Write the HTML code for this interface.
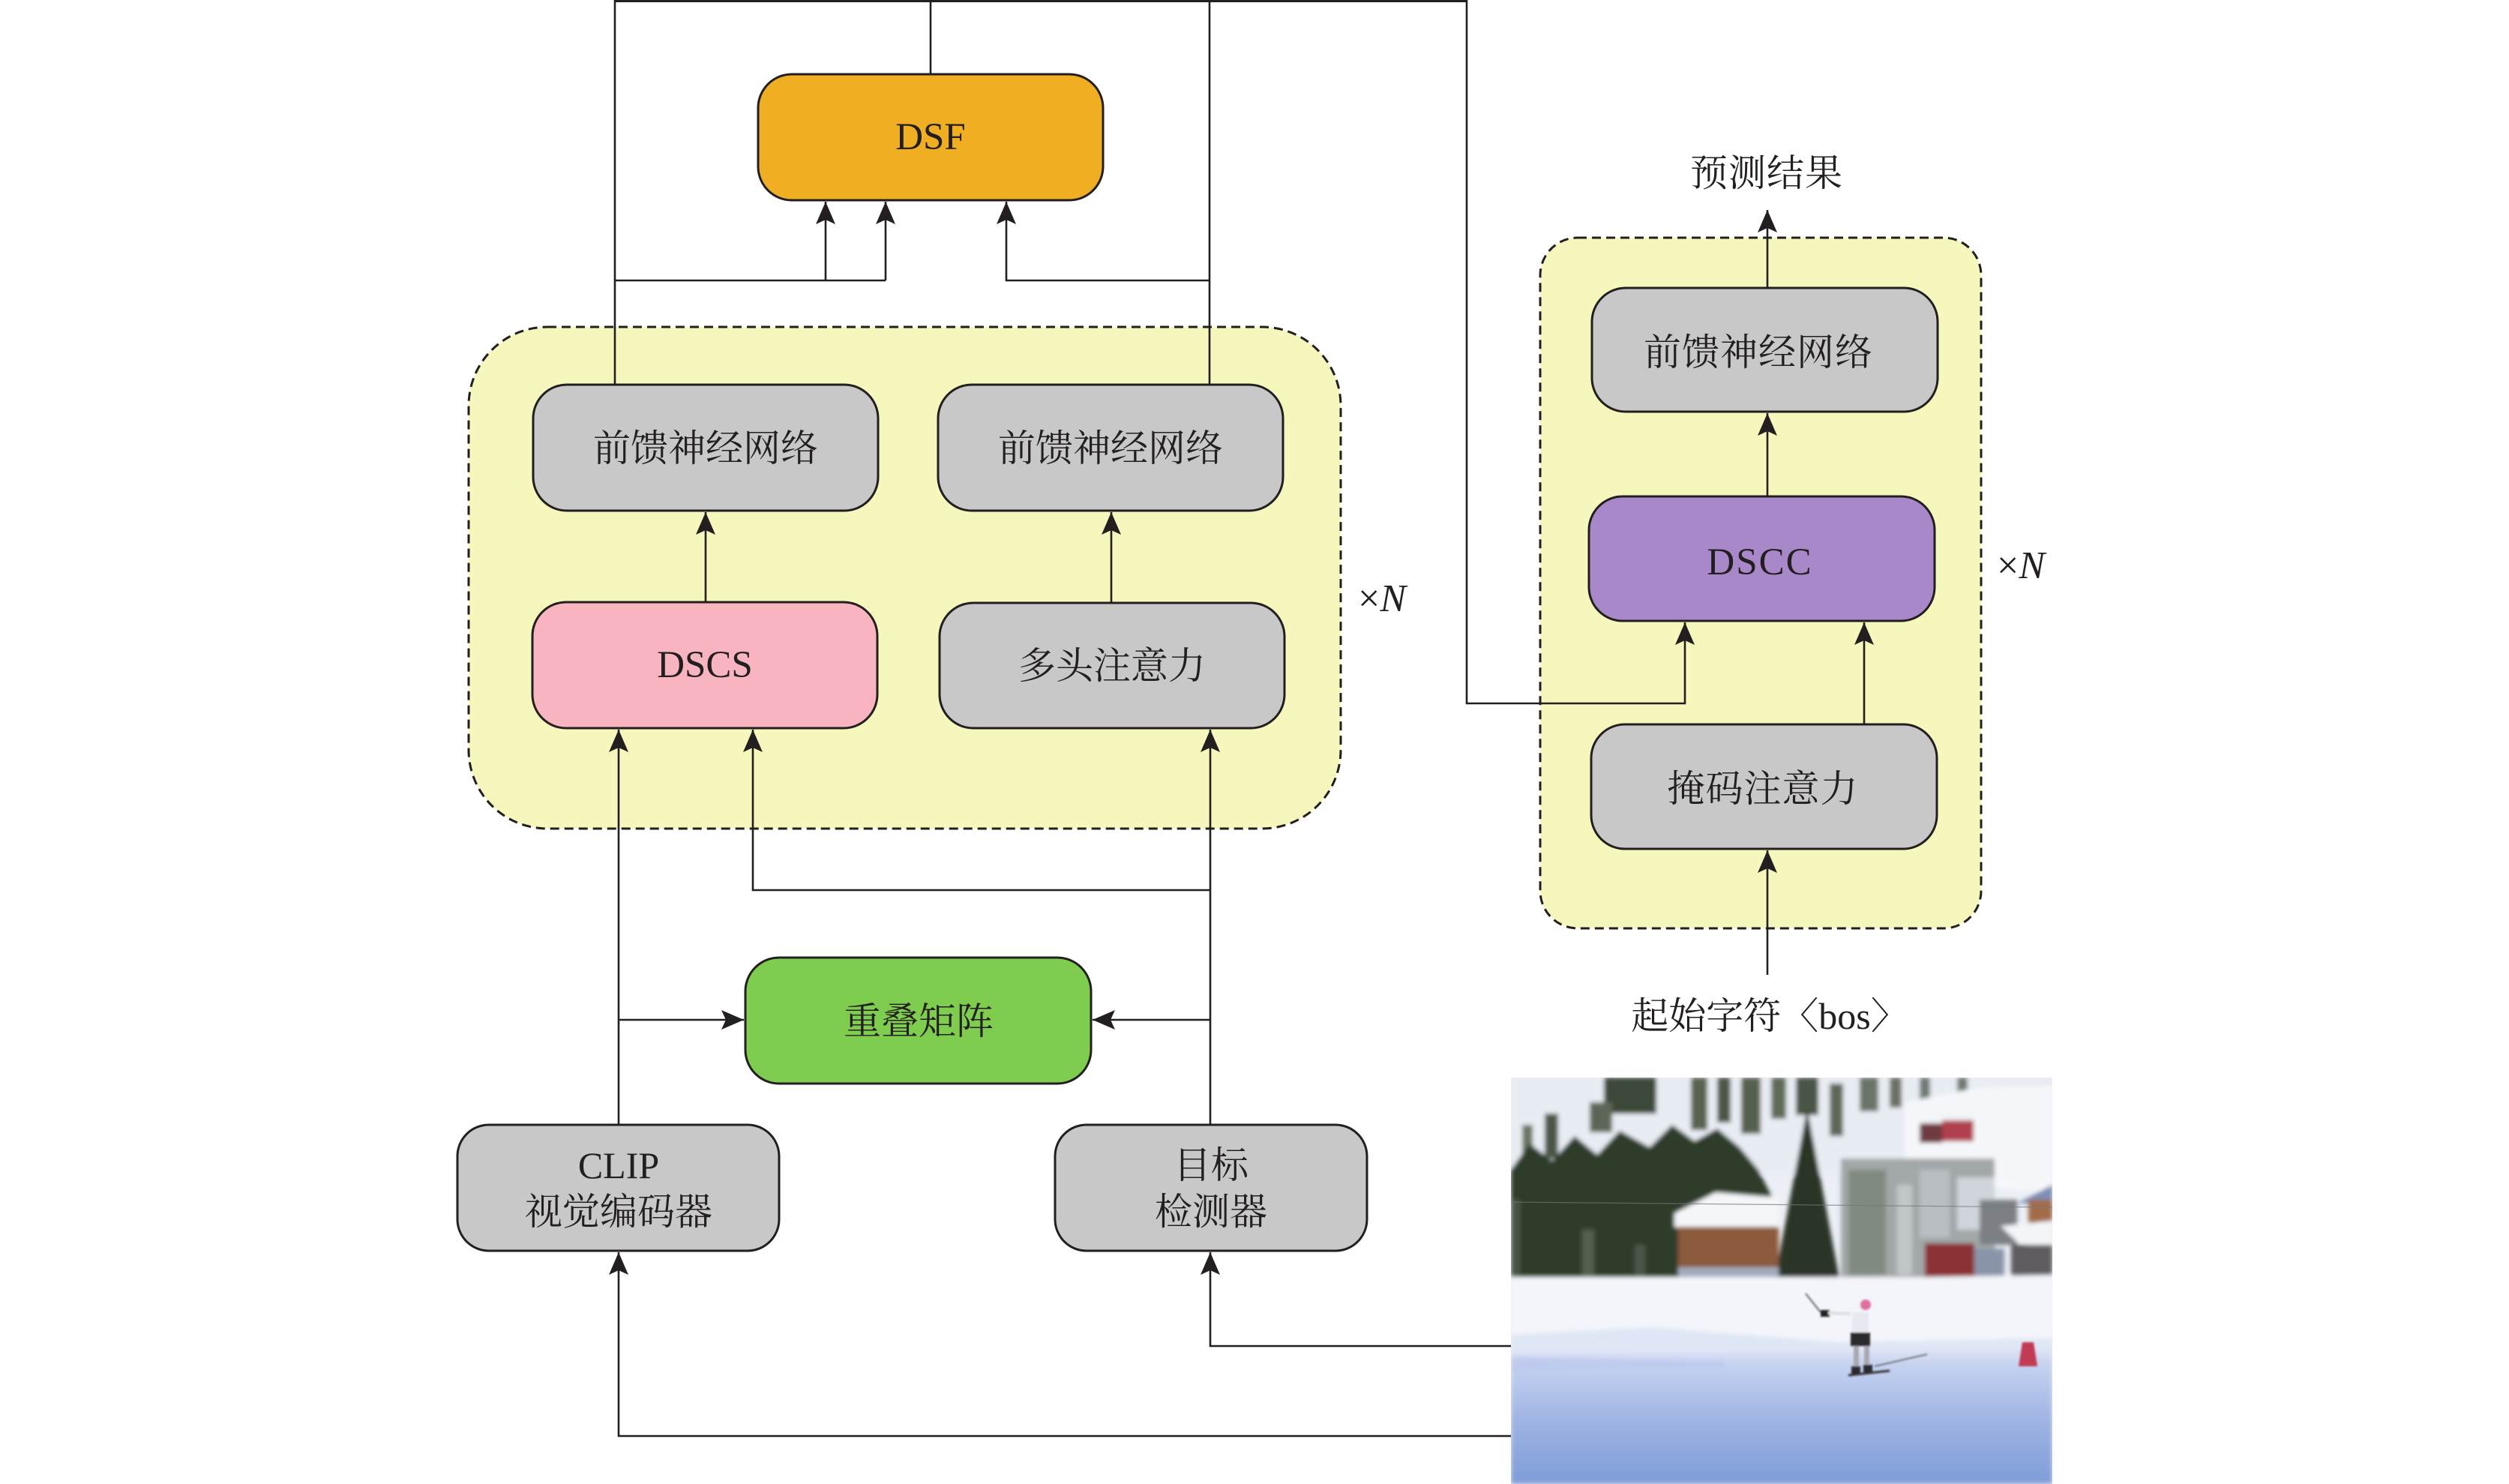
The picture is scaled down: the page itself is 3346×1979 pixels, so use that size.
<!DOCTYPE html>
<html>
<head>
<meta charset="utf-8">
<style>
html,body{margin:0;padding:0;background:#fff;}
body{width:3346px;height:1979px;overflow:hidden;}
svg{display:block;}
.cn{font-family:"Liberation Serif","Noto Serif CJK SC","Noto Sans CJK SC",serif;font-size:50px;fill:#231f20;}
.lt{font-family:"Liberation Serif",serif;font-size:51px;fill:#231f20;}
.ln{stroke:#231f20;stroke-width:2.6;fill:none;}
.bx{stroke:#231f20;stroke-width:3;}
</style>
</head>
<body>
<svg width="3346" height="1979" viewBox="0 0 3346 1979" xmlns="http://www.w3.org/2000/svg">
<defs>
<marker id="a" markerUnits="userSpaceOnUse" markerWidth="32" markerHeight="28" refX="30" refY="14" orient="auto" viewBox="0 0 32 28">
<path d="M30,14 L0,1 L6,14 L0,27 Z" fill="#231f20"/>
</marker>
<linearGradient id="snow" x1="0" y1="0" x2="0" y2="1">
<stop offset="0" stop-color="#f4f6fa"/>
<stop offset="0.3" stop-color="#eef1f9"/>
<stop offset="0.42" stop-color="#c6d2f0"/>
<stop offset="0.7" stop-color="#9db3e2"/>
<stop offset="1" stop-color="#7f9dd8"/>
</linearGradient>
<clipPath id="pc"><rect x="2015" y="1437" width="722" height="542"/></clipPath>
<filter id="bl" x="-5%" y="-5%" width="110%" height="110%"><feGaussianBlur stdDeviation="3"/></filter>
<filter id="bl2"><feGaussianBlur stdDeviation="1.2"/></filter>
</defs>

<!-- containers -->
<rect x="625" y="436" width="1163" height="669" rx="105" ry="105" fill="#f5f7bc" stroke="#231f20" stroke-width="3" stroke-dasharray="12 7"/>
<rect x="2054" y="317" width="588" height="921" rx="50" ry="50" fill="#f5f7bc" stroke="#231f20" stroke-width="3" stroke-dasharray="12 7"/>

<!-- connectors -->
<line class="ln" x1="820" y1="1.5" x2="1956" y2="1.5" style="stroke-width:3"/>
<line class="ln" x1="820" y1="0" x2="820" y2="513"/>
<line class="ln" x1="1241" y1="0" x2="1241" y2="99"/>
<line class="ln" x1="1613" y1="0" x2="1613" y2="513"/>
<polyline class="ln" points="1956,0 1956,938 2247,938 2247,830" marker-end="url(#a)"/>
<line class="ln" x1="820" y1="374" x2="1181" y2="374"/>
<line class="ln" x1="1101" y1="374" x2="1101" y2="269" marker-end="url(#a)"/>
<line class="ln" x1="1181" y1="374" x2="1181" y2="269" marker-end="url(#a)"/>
<polyline class="ln" points="1613,374 1342,374 1342,269" marker-end="url(#a)"/>
<line class="ln" x1="941" y1="803" x2="941" y2="683" marker-end="url(#a)"/>
<line class="ln" x1="1482" y1="804" x2="1482" y2="683" marker-end="url(#a)"/>
<line class="ln" x1="825" y1="1500" x2="825" y2="973" marker-end="url(#a)"/>
<polyline class="ln" points="1614,1187 1004,1187 1004,973" marker-end="url(#a)"/>
<line class="ln" x1="1614" y1="1500" x2="1614" y2="973" marker-end="url(#a)"/>
<line class="ln" x1="825" y1="1360" x2="992" y2="1360" marker-end="url(#a)"/>
<line class="ln" x1="1614" y1="1360" x2="1457" y2="1360" marker-end="url(#a)"/>
<polyline class="ln" points="2015,1915 825,1915 825,1670" marker-end="url(#a)"/>
<polyline class="ln" points="2015,1795 1614,1795 1614,1670" marker-end="url(#a)"/>
<line class="ln" x1="2357" y1="1300" x2="2357" y2="1134" marker-end="url(#a)"/>
<line class="ln" x1="2486" y1="966" x2="2486" y2="830" marker-end="url(#a)"/>
<line class="ln" x1="2357" y1="662" x2="2357" y2="551" marker-end="url(#a)"/>
<line class="ln" x1="2357" y1="384" x2="2357" y2="280" marker-end="url(#a)"/>

<!-- boxes -->
<rect class="bx" x="1011" y="99" width="460" height="168" rx="45" fill="#f0ae22"/>
<text class="lt" x="1241" y="199" text-anchor="middle">DSF</text>

<rect class="bx" x="711" y="513" width="460" height="168" rx="45" fill="#c8c8c8"/>
<text class="cn" x="941" y="615" text-anchor="middle">前馈神经网络</text>
<rect class="bx" x="1251" y="513" width="460" height="168" rx="45" fill="#c8c8c8"/>
<text class="cn" x="1481" y="615" text-anchor="middle">前馈神经网络</text>

<rect class="bx" x="710" y="803" width="460" height="168" rx="45" fill="#f8b5bf"/>
<text class="lt" x="940" y="903" text-anchor="middle">DSCS</text>
<rect class="bx" x="1253" y="804" width="460" height="167" rx="45" fill="#c8c8c8"/>
<text class="cn" x="1483" y="905" text-anchor="middle">多头注意力</text>

<text x="1811" y="815" style="font-family:'Liberation Serif',serif;font-size:52px;fill:#231f20">×<tspan font-style="italic">N</tspan></text>

<rect class="bx" x="994" y="1277" width="461" height="168" rx="45" fill="#7fcd4f"/>
<text class="cn" x="1225" y="1379" text-anchor="middle">重叠矩阵</text>

<rect class="bx" x="610" y="1500" width="429" height="168" rx="42" fill="#c8c8c8"/>
<text class="lt" x="825" y="1571" text-anchor="middle" style="font-size:50px">CLIP</text>
<text class="cn" x="825" y="1633" text-anchor="middle">视觉编码器</text>

<rect class="bx" x="1407" y="1500" width="416" height="168" rx="42" fill="#c8c8c8"/>
<text class="cn" x="1615" y="1571" text-anchor="middle">目标</text>
<text class="cn" x="1615" y="1633" text-anchor="middle">检测器</text>

<!-- right side -->
<text class="cn" x="2356" y="248" text-anchor="middle" letter-spacing="1">预测结果</text>
<rect class="bx" x="2123" y="384" width="461" height="165" rx="45" fill="#c8c8c8"/>
<text class="cn" x="2345" y="487" text-anchor="middle" letter-spacing="1">前馈神经网络</text>
<rect class="bx" x="2119" y="662" width="461" height="166" rx="45" fill="#a888c8"/>
<text class="lt" x="2347" y="766" text-anchor="middle" letter-spacing="2">DSCC</text>
<rect class="bx" x="2122" y="966" width="461" height="166" rx="45" fill="#c8c8c8"/>
<text class="cn" x="2351" y="1069" text-anchor="middle" letter-spacing="1">掩码注意力</text>
<text x="2663" y="771" style="font-family:'Liberation Serif',serif;font-size:52px;fill:#231f20">×<tspan font-style="italic">N</tspan></text>
<text class="cn" x="2360" y="1372" text-anchor="middle">起始字符〈bos〉</text>

<!-- photo -->
<g clip-path="url(#pc)">
<rect x="2015" y="1437" width="722" height="542" fill="#eceff5"/>
<g filter="url(#bl)">
<!-- upper snowy hillside with scattered trees -->
<rect x="2015" y="1437" width="722" height="130" fill="#e8ecf3"/>
<rect x="2139" y="1437" width="70" height="48" fill="#3e4838"/>
<rect x="2120" y="1470" width="30" height="40" fill="#5d6656"/>
<rect x="2060" y="1485" width="18" height="60" fill="#4b5646"/>
<rect x="2030" y="1500" width="14" height="40" fill="#6a7464"/>
<rect x="2255" y="1437" width="22" height="70" fill="#59624f"/>
<rect x="2290" y="1437" width="18" height="60" fill="#4d5646"/>
<rect x="2322" y="1437" width="26" height="75" fill="#56604f"/>
<rect x="2362" y="1437" width="20" height="55" fill="#606a5a"/>
<rect x="2395" y="1437" width="30" height="50" fill="#4a5444"/>
<rect x="2440" y="1445" width="18" height="70" fill="#5f6858"/>
<rect x="2480" y="1437" width="25" height="45" fill="#6b7367"/>
<rect x="2520" y="1437" width="16" height="40" fill="#6a7064"/>
<rect x="2560" y="1437" width="14" height="30" fill="#707a72"/>
<rect x="2610" y="1437" width="14" height="22" fill="#707a72"/>
<!-- white hill right -->
<polygon points="2540,1470 2640,1450 2737,1448 2737,1590 2540,1575" fill="#f5f7fa"/>
<!-- red house upper right -->
<polygon points="2560,1498 2590,1480 2632,1484 2632,1500" fill="#f2f4f7"/>
<rect x="2560" y="1498" width="30" height="26" fill="#6e3a40"/>
<rect x="2590" y="1494" width="42" height="28" fill="#b0404e"/>
<!-- dark forest band left -->
<polygon points="2015,1560 2040,1525 2070,1548 2100,1515 2130,1540 2160,1508 2200,1530 2230,1500 2260,1522 2290,1505 2320,1530 2345,1560 2365,1600 2370,1731 2015,1731" fill="#2f3c2c"/>
<rect x="2110" y="1640" width="16" height="91" fill="#55604f"/>
<rect x="2180" y="1660" width="14" height="71" fill="#4c5746"/>
<rect x="2015" y="1600" width="12" height="131" fill="#4a5444"/>
<!-- tall tree -->
<polygon points="2410,1478 2458,1731 2362,1731" fill="#2a3628"/>
<!-- middle-right bare trees -->
<rect x="2455" y="1545" width="205" height="160" fill="#a2a7a8"/>
<rect x="2465" y="1560" width="50" height="140" fill="#818a80"/>
<rect x="2530" y="1580" width="20" height="120" fill="#c2c6c8"/>
<rect x="2560" y="1560" width="40" height="90" fill="#b9bec2"/>
<rect x="2610" y="1570" width="50" height="70" fill="#d0d5dc"/>
<rect x="2640" y="1600" width="50" height="60" fill="#7b7f84"/>
<!-- brown house -->
<polygon points="2233,1618 2288,1590 2372,1597 2372,1645 2300,1652 2233,1636" fill="#f5f6f8"/>
<rect x="2238" y="1636" width="134" height="55" fill="#8c5a3c"/>
<rect x="2238" y="1690" width="134" height="38" fill="#a3acbb"/>
<!-- right houses -->
<polygon points="2690,1605 2737,1580 2737,1605" fill="#7a8db4"/>
<rect x="2705" y="1600" width="32" height="32" fill="#a36c48"/>
<polygon points="2668,1635 2737,1628 2737,1668 2690,1656" fill="#f3f5f8"/>
<rect x="2682" y="1660" width="55" height="45" fill="#5e5b60"/>
<rect x="2567" y="1658" width="66" height="45" fill="#8b3236"/>
<rect x="2633" y="1665" width="40" height="40" fill="#8a94a8"/>
<!-- slope -->
<rect x="2015" y="1703" width="722" height="276" fill="url(#snow)"/>
<polygon points="2015,1731 2300,1728 2440,1705 2737,1700 2737,1790 2015,1790" fill="#f3f5fa"/>
<polygon points="2015,1780 2200,1770 2450,1790 2737,1785 2737,1800 2015,1805" fill="#dfe6f5"/>
<polygon points="2015,1810 2300,1815 2300,1822 2015,1828" fill="#b9c8ee" opacity="0.7"/>
</g>
<!-- wire -->
<line x1="2015" y1="1603" x2="2737" y2="1610" stroke="#70787c" stroke-width="1.2" opacity="0.7"/>
<!-- skier -->
<g filter="url(#bl2)">
<line x1="2408" y1="1725" x2="2428" y2="1750" stroke="#666" stroke-width="2"/>
<rect x="2428" y="1747" width="12" height="9" fill="#222"/>
<line x1="2438" y1="1751" x2="2468" y2="1752" stroke="#ddd" stroke-width="4"/>
<circle cx="2488" cy="1740" r="7" fill="#e070a0"/>
<rect x="2470" y="1750" width="22" height="27" fill="#e6eaf0"/>
<rect x="2468" y="1777" width="26" height="18" fill="#2a2a2a"/>
<rect x="2472" y="1795" width="7" height="28" fill="#a8a8b0"/>
<rect x="2486" y="1795" width="7" height="26" fill="#a8a8b0"/>
<rect x="2469" y="1822" width="12" height="10" fill="#2b2b30"/>
<rect x="2485" y="1820" width="12" height="10" fill="#2b2b30"/>
<line x1="2465" y1="1834" x2="2520" y2="1828" stroke="#333" stroke-width="3"/>
<line x1="2500" y1="1822" x2="2570" y2="1806" stroke="#555" stroke-width="1.5"/>
</g>
<!-- cone -->
<polygon points="2692,1822 2717,1822 2712,1790 2697,1790" fill="#c23a55" filter="url(#bl2)"/>
</g>
</svg>
</body>
</html>
